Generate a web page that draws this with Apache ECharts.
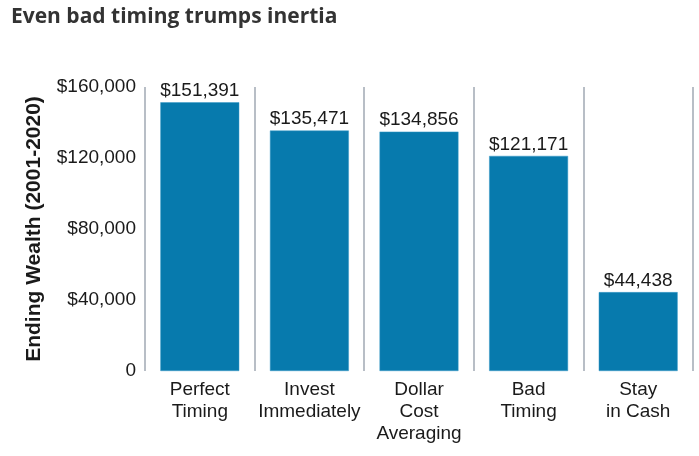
<!DOCTYPE html>
<html><head><meta charset="utf-8">
<script src="https://cdn.jsdelivr.net/npm/echarts@6/dist/echarts.min.js"></script>
<style>html,body{margin:0;padding:0;background:#fff}#c{width:699px;height:456px}</style>
</head><body><div id="c"></div>
<script>
const categories = ["Perfect\nTiming", "Invest\nImmediately", "Dollar\nCost\nAveraging", "Bad\nTiming", "Stay\nin Cash"];
const values = [151391, 135471, 134856, 121171, 44438];
const yTicks = [0, 40000, 80000, 120000, 160000];
const fmt = v => v === 0 ? "0" : "$" + v.toLocaleString("en-US");
const chart = echarts.init(document.getElementById('c'), null, {renderer: 'canvas'});
chart.setOption({
  animation: false,
  title: {text: "Even bad timing trumps inertia", left: 6, top: 2,
    textStyle: {fontFamily: "Open Sans", fontWeight: "bold", fontSize: 21, color: "#333333"}},
  grid: {left: 145, right: 6, top: 87, bottom: 85, containLabel: false},
  xAxis: {type: "category", data: categories,
    axisLine: {show: false}, axisTick: {show: false},
    splitLine: {show: true, showMinLine: true, showMaxLine: true, lineStyle: {color: "#a0a9b3", width: 1.5}},
    axisLabel: {fontFamily: "Liberation Sans", fontSize: 19, color: "#1a1a1a", lineHeight: 22, margin: 8, interval: 0}},
  yAxis: {type: "value", min: yTicks[0], max: yTicks[yTicks.length - 1], interval: 40000,
    name: "Ending Wealth (2001-2020)", nameLocation: "middle", nameGap: 100,
    nameTextStyle: {fontFamily: "Liberation Sans", fontWeight: "bold", fontSize: 21, color: "#1a1a1a"},
    axisLine: {show: false}, axisTick: {show: false}, splitLine: {show: false},
    axisLabel: {fontFamily: "Liberation Sans", fontSize: 19, color: "#1a1a1a", margin: 9, padding: [4, 0, 0, 0], formatter: fmt}},
  series: [{type: "bar", data: values, barWidth: "72%",
    itemStyle: {color: "#077aad", borderColor: "#3b9bc8", borderWidth: 0.5},
    label: {show: true, position: "top", distance: 2, fontFamily: "Liberation Sans", fontSize: 19, color: "#1a1a1a", formatter: p => fmt(p.value)}}]
});
</script></body></html>
